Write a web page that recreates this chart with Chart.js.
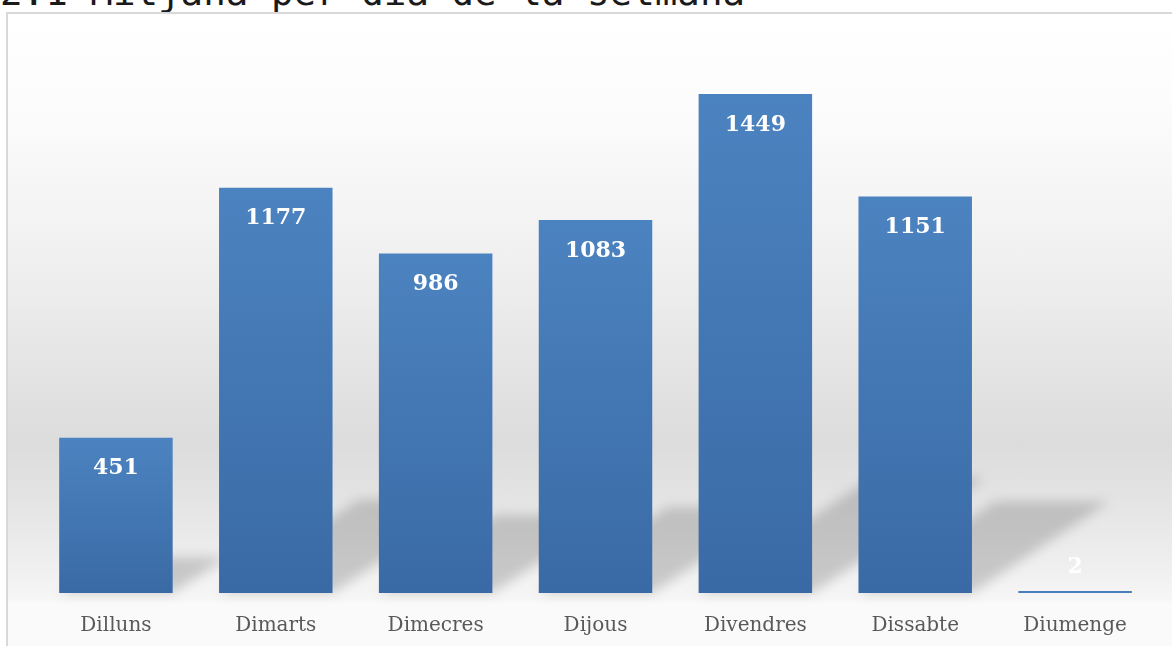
<!DOCTYPE html>
<html>
<head>
<meta charset="utf-8">
<script src="https://cdn.jsdelivr.net/npm/chart.js@4.4.1/dist/chart.umd.min.js"></script>
<style>
  html, body { margin: 0; padding: 0; background: #fff; overflow: hidden; }
  body { width: 1172px; height: 646px; position: relative; }
  .title {
    position: absolute; left: 0; top: -26px;
    font: 37.5px/37px "DejaVu Sans Mono", monospace;
    color: #1a1a1a; white-space: nowrap;
  }
  .frame {
    position: absolute; left: 6px; top: 12px; width: 1170px; height: 640px;
    border-left: 2px solid #d9d9d9; border-top: 2px solid #d9d9d9;
    background: linear-gradient(to bottom,
      #ffffff 0%, #fcfcfc 15%, #efefef 40%, #dcdcdc 67%,
      #e4e4e4 76%, #f0f0f0 87%, #f6f6f6 91.5%, #fafafa 92%, #fafafa 100%);
  }
  .box { position: absolute; left: 8px; top: 14px; width: 1164px; height: 632px; }
</style>
</head>
<body>
<div class="title">2.1 Mitjana per dia de la setmana</div>
<div class="frame"></div>
<div class="box"><canvas id="chart"></canvas></div>
<script>
const days = ["Dilluns", "Dimarts", "Dimecres", "Dijous", "Divendres", "Dissabte", "Diumenge"];
const averages = [451, 1177, 986, 1083, 1449, 1151, 2];
const yMax = 1600;

// soft perspective shadows behind the bars
const barShadows = {
    id: 'barShadows',
    beforeDatasetsDraw(chart) {
        const c = chart.ctx;
        const meta = chart.getDatasetMeta(0);
        c.save();
        c.filter = 'blur(6px)';
        c.fillStyle = 'rgba(0,0,0,0.17)';
        meta.data.forEach(bar => {
            const { x, y, base, width } = bar.getProps(['x', 'y', 'base', 'width'], true);
            const h = (base - y) * 0.23;
            if (h < 3) return;
            const left = x - width / 2, right = x + width / 2;
            c.beginPath();
            c.moveTo(left, base);
            c.lineTo(right, base);
            c.lineTo(right + h * 1.5, base - h);
            c.lineTo(left + h * 1.5, base - h);
            c.closePath();
            c.fill();
        });
        c.restore();
    }
};

// value labels inside the top of each bar
const valueLabels = {
    id: 'valueLabels',
    afterDatasetsDraw(chart) {
        const c = chart.ctx;
        const meta = chart.getDatasetMeta(0);
        c.save();
        c.font = 'bold 22px "DejaVu Serif", serif';
        c.fillStyle = '#ffffff';
        c.textAlign = 'center';
        c.textBaseline = 'middle';
        meta.data.forEach((bar, i) => {
            const { x, y, base } = bar.getProps(['x', 'y', 'base'], true);
            const ty = (base - y) > 45 ? y + 31 : y - 24;
            c.fillText(String(averages[i]), x, ty);
        });
        c.restore();
    }
};

function barGradient(ctx) {
    const chart = ctx.chart;
    if (!chart.chartArea || ctx.type !== 'data') return '#4376b3';
    const yScale = chart.scales.y;
    const top = yScale.getPixelForValue(ctx.raw);
    const bottom = yScale.getPixelForValue(0);
    if (bottom - top < 2) return '#4a7ebb';
    const g = chart.ctx.createLinearGradient(0, top, 0, bottom);
    g.addColorStop(0, '#4b83c0');
    g.addColorStop(1, '#3a6aa5');
    return g;
}

new Chart(document.getElementById('chart'), {
    type: 'bar',
    data: {
        labels: days,
        datasets: [{
            data: averages,
            backgroundColor: barGradient,
            borderWidth: 0,
            categoryPercentage: 1,
            barPercentage: 0.71,
            minBarLength: 2
        }]
    },
    options: {
        responsive: true,
        maintainAspectRatio: false,
        animation: false,
        layout: { padding: { left: 28, right: 17, top: 28, bottom: 0 } },
        plugins: {
            legend: { display: false },
            tooltip: { enabled: false },
            title: { display: false }
        },
        scales: {
            x: {
                grid: { display: false, drawTicks: false },
                border: { display: false },
                ticks: {
                    color: '#595959',
                    font: { family: '"DejaVu Serif", serif', size: 20 },
                    padding: 21
                },
                afterFit: s => { s.height = 53; }
            },
            y: {
                display: false,
                min: 0,
                max: yMax
            }
        }
    },
    plugins: [barShadows, valueLabels]
});
</script>
</body>
</html>
